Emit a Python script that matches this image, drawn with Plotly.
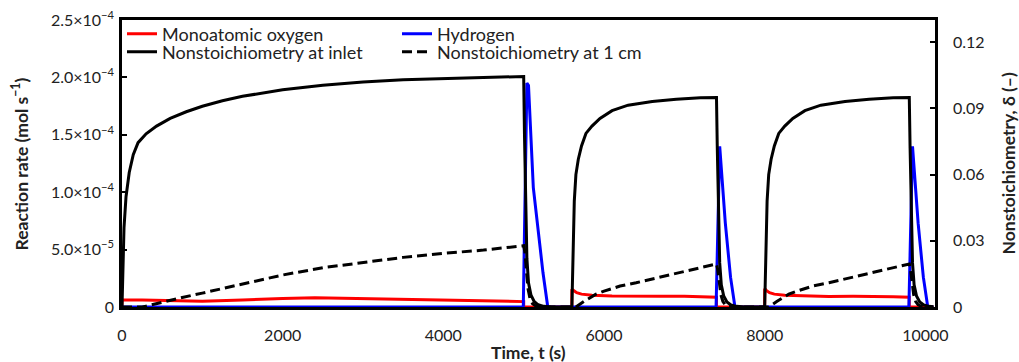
import plotly.graph_objects as go

# ---- data ----
# Monoatomic oxygen reaction rate (mol/s), left axis
T_O = [0, 0, 250, 500, 1000, 1500, 2000, 2400, 3000, 3500, 4000, 4500, 5000, 5000,
       5600, 5600, 5620, 5660, 5720, 5850, 6100, 6400, 6700, 7000, 7200, 7400, 7400,
       8000, 8000, 8020, 8060, 8120, 8250, 8500, 8800, 9100, 9400, 9600, 9800, 9800, 10100]
R_O = [0, 6.0e-6, 6.0e-6, 5.5e-6, 5.0e-6, 6.0e-6, 7.5e-6, 8.0e-6, 7.3e-6, 6.3e-6, 5.5e-6, 5.0e-6, 4.7e-6, 0,
       0, 1.55e-5, 1.42e-5, 1.25e-5, 1.12e-5, 1.02e-5, 9.5e-6, 9.2e-6, 9.3e-6, 9.4e-6, 9.0e-6, 8.5e-6, 0,
       0, 1.6e-5, 1.45e-5, 1.25e-5, 1.12e-5, 1.02e-5, 9.5e-6, 9.2e-6, 9.3e-6, 9.4e-6, 9.0e-6, 8.5e-6, 0, 0]

# Hydrogen reaction rate (mol/s), left axis
T_H = [0, 4995, 5040, 5060, 5120, 5180, 5240, 5300, 5600,
       7395, 7440, 7510, 7575, 7630, 8000,
       9795, 9840, 9910, 9975, 10030, 10100]
R_H = [0, 0, 1.95e-4, 1.93e-4, 1.04e-4, 6.4e-5, 3.0e-5, 0, 0,
       0, 1.4e-4, 7.3e-5, 2.6e-5, 0, 0,
       0, 1.4e-4, 7.3e-5, 2.6e-5, 0, 0]

# Nonstoichiometry at inlet (-), right axis
T_IN = [0, 10, 25, 50, 90, 140, 200, 300, 430, 600, 800, 1000, 1250, 1500, 2000, 2500, 3000, 3500, 4000, 4500, 5000,
        5010, 5025, 5040, 5060, 5090, 5130, 5180, 5250, 5350,
        5600, 5605, 5615, 5630, 5650, 5680, 5720, 5775, 5850, 5950, 6100, 6300, 6600, 6900, 7200, 7400,
        7410, 7425, 7440, 7460, 7490, 7530, 7580, 7650, 7750,
        8000, 8005, 8015, 8030, 8050, 8080, 8120, 8175, 8250, 8350, 8500, 8700, 9000, 9300, 9600, 9800,
        9810, 9825, 9840, 9860, 9890, 9930, 9980, 10050, 10100]
D_IN = [0, 0.02, 0.036, 0.05, 0.061, 0.069, 0.0745, 0.0785, 0.082, 0.0855, 0.0885, 0.091, 0.0935, 0.0955, 0.0985,
        0.1005, 0.102, 0.103, 0.1035, 0.104, 0.1045,
        0.078, 0.042, 0.022, 0.011, 0.0055, 0.0025, 0.001, 0.0003, 0,
        0, 0.01, 0.03, 0.048, 0.06, 0.067, 0.073, 0.0787, 0.082, 0.0855, 0.089, 0.0915, 0.0932, 0.0942, 0.0948, 0.095,
        0.072, 0.038, 0.02, 0.01, 0.005, 0.0023, 0.0009, 0.0003, 0,
        0, 0.01, 0.03, 0.048, 0.06, 0.067, 0.073, 0.0787, 0.082, 0.0855, 0.089, 0.0915, 0.0932, 0.0942, 0.0948, 0.095,
        0.072, 0.038, 0.02, 0.01, 0.005, 0.0023, 0.0009, 0.0003, 0]

# Nonstoichiometry at 1 cm (-), right axis
T_1CM = [0, 250, 300, 500, 750, 1000, 1500, 2000, 2500, 3000, 3500, 4000, 4500, 5000,
         5015, 5035, 5055, 5080, 5110, 5150, 5200, 5300,
         5600, 5650, 5750, 5900, 6000, 6200, 6400, 6600, 6800, 7000, 7200, 7400,
         7415, 7435, 7455, 7480, 7510, 7550, 7600, 7700,
         8000, 8050, 8150, 8300, 8400, 8600, 8800, 9000, 9200, 9400, 9600, 9800,
         9815, 9835, 9855, 9880, 9910, 9950, 10000, 10100]
D_1CM = [0, 0, 0.0004, 0.0022, 0.0043, 0.0063, 0.0105, 0.0145, 0.0178, 0.0203, 0.0225, 0.0243, 0.0258, 0.0278,
         0.025, 0.016, 0.008, 0.0035, 0.0015, 0.0005, 0.0001, 0,
         0, 0, 0.0025, 0.0058, 0.0072, 0.0095, 0.011, 0.0127, 0.0142, 0.0158, 0.0175, 0.0195,
         0.017, 0.011, 0.0055, 0.0025, 0.001, 0.0003, 0.0001, 0,
         0, 0, 0.0025, 0.0058, 0.0072, 0.0095, 0.011, 0.0127, 0.0142, 0.0158, 0.0175, 0.0195,
         0.017, 0.011, 0.0055, 0.0025, 0.001, 0.0003, 0.0001, 0]

X_TICKS = [0, 2000, 4000, 6000, 8000, 10000]
Y1_TICKS = [0, 5e-5, 1e-4, 1.5e-4, 2e-4, 2.5e-4]
Y1_LABELS = ["0", "5.0×10<sup>−5</sup>", "1.0×10<sup>−4</sup>", "1.5×10<sup>−4</sup>",
             "2.0×10<sup>−4</sup>", "2.5×10<sup>−4</sup>"]
Y2_TICKS = [0, 0.03, 0.06, 0.09, 0.12]
Y2_LABELS = ["0", "0.03", "0.06", "0.09", "0.12"]

FONT = "Lato"
TXT = "#222222"

fig = go.Figure()
fig.add_trace(go.Scatter(x=T_O, y=R_O, mode="lines", name="Monoatomic oxygen",
                         line=dict(color="#ff0000", width=3), yaxis="y", legend="legend"))
fig.add_trace(go.Scatter(x=T_H, y=R_H, mode="lines", name="Hydrogen",
                         line=dict(color="#0000ff", width=3), yaxis="y", legend="legend"))
fig.add_trace(go.Scatter(x=T_IN, y=D_IN, mode="lines", name="Nonstoichiometry at inlet",
                         line=dict(color="#000000", width=3), yaxis="y2", legend="legend2"))
fig.add_trace(go.Scatter(x=T_1CM, y=D_1CM, mode="lines", name="Nonstoichiometry at 1 cm",
                         line=dict(color="#000000", width=3, dash="10px,5px"), yaxis="y2", legend="legend2"))

legend_common = dict(orientation="h", x=0, xanchor="left", yanchor="middle",
                     bgcolor="rgba(0,0,0,0)", font=dict(size=18, color=TXT, family=FONT),
                     entrywidthmode="pixels", entrywidth=230)

fig.update_layout(
    width=1019, height=362,
    margin=dict(l=122, r=84, t=20, b=55, autoexpand=False),
    paper_bgcolor="white", plot_bgcolor="white",
    font=dict(family=FONT, size=16, color=TXT),
    showlegend=True,
    legend=dict(y=0.9512, **legend_common),
    legend2=dict(y=0.8885, **legend_common),
    xaxis=dict(range=[0, 10120], tickvals=X_TICKS, ticktext=[str(v) for v in X_TICKS],
               showline=True, linecolor="black", linewidth=2.5, mirror=True, automargin=False,
               ticks="", showgrid=False, zeroline=False, ticklabelstandoff=12,
               ticklabeloverflow="allow"),
    yaxis=dict(range=[0, 2.5e-4], tickvals=Y1_TICKS, ticktext=Y1_LABELS,
               showline=True, linecolor="black", linewidth=2.5, mirror=True, automargin=False,
               ticks="inside", ticklen=5, tickwidth=1.5, tickcolor="black",
               showgrid=False, zeroline=False, ticklabelstandoff=2, ticklabeloverflow="allow"),
    yaxis2=dict(range=[0, 0.1301], tickvals=Y2_TICKS, ticktext=Y2_LABELS,
                overlaying="y", side="right", anchor="x", automargin=False,
                showline=True, linecolor="black", linewidth=2.5,
                ticks="inside", ticklen=5, tickwidth=1.5, tickcolor="black",
                showgrid=False, zeroline=False, ticklabelstandoff=12, ticklabeloverflow="allow"),
    annotations=[
        dict(text="<b>Time, t (s)</b>", xref="paper", yref="paper", x=0.5, y=-0.1568,
             xanchor="center", yanchor="middle", showarrow=False, font=dict(size=17.5, color=TXT)),
        dict(text="<b>Reaction rate (mol s<sup>−1</sup>)</b>", xref="paper", yref="paper", x=-0.1255, y=0.5,
             xanchor="center", yanchor="middle", textangle=-90, showarrow=False, font=dict(size=17.5, color=TXT)),
        dict(text="<b>Nonstoichiometry, δ (–)</b>", xref="paper", yref="paper", x=1.0898, y=0.5,
             xanchor="center", yanchor="middle", textangle=-90, showarrow=False, font=dict(size=17.5, color=TXT)),
    ],
)

fig.write_html("out.html", config={"displayModeBar": False},
               post_script="document.body.style.margin='0';")
